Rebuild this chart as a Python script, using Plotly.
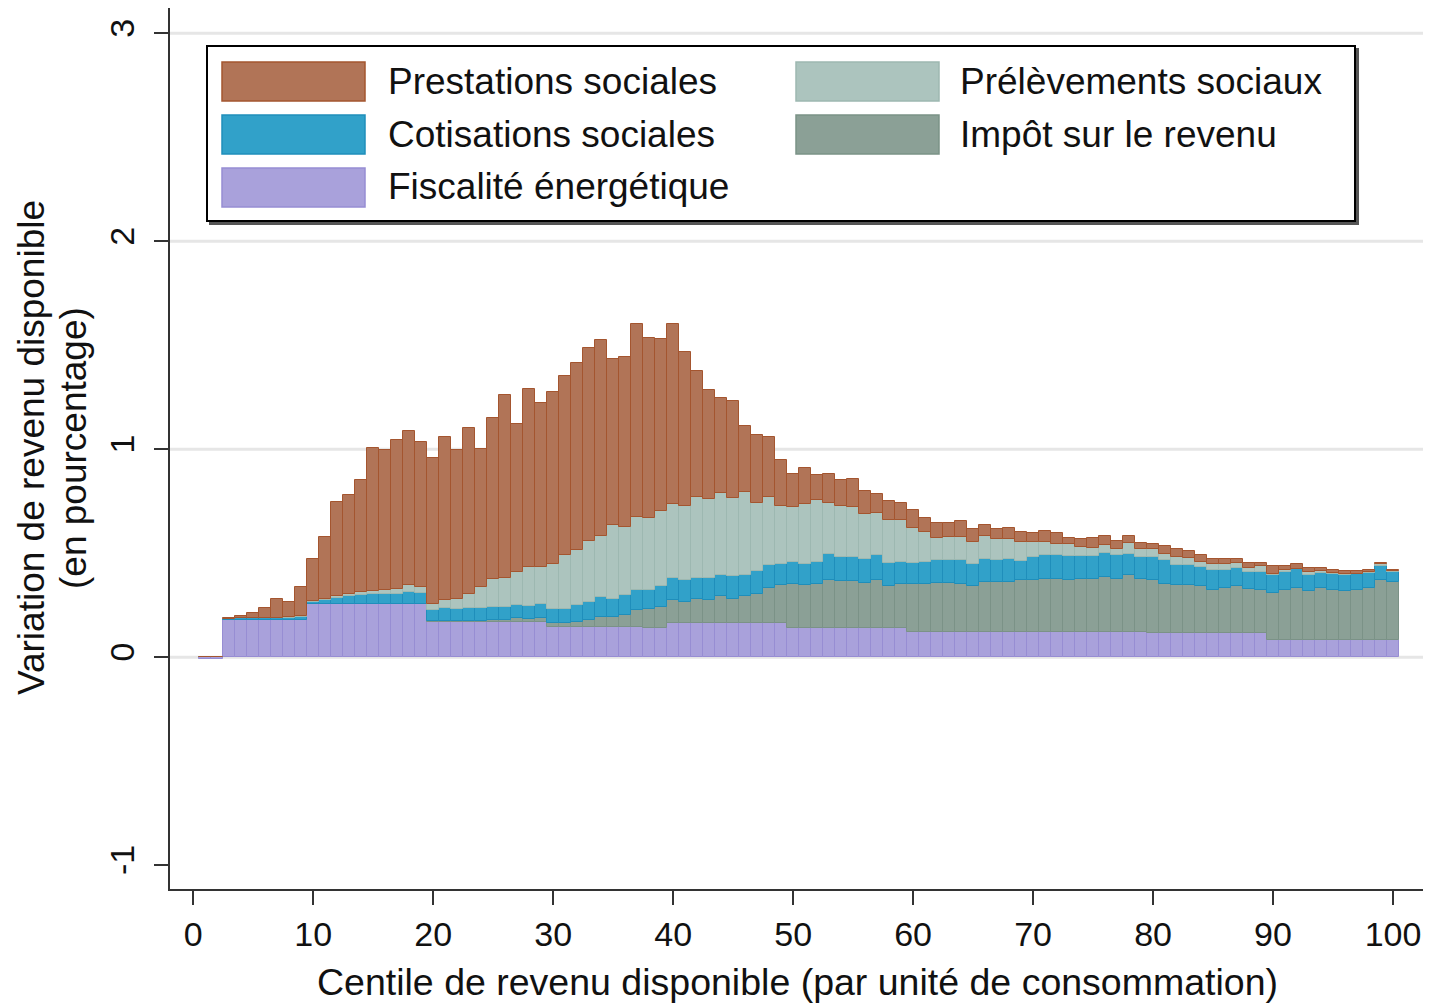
import plotly.graph_objects as go

centiles = list(range(1, 101))

fiscalite = ([-0.01] * 2 + [0.18] * 7 + [0.255] * 10 + [0.17] * 10 + [0.145] * 8 + [0.14] * 2
             + [0.165] * 10 + [0.14] * 10 + [0.122] * 15 + [0.12] * 5 + [0.114] * 10 + [0.082] * 11)

impot = ([0.0] * 19 +
         [0.005, 0.005, 0.005, 0.006, 0.006, 0.008, 0.010, 0.016, 0.013, 0.016,
          0.020, 0.020, 0.025, 0.033, 0.049, 0.049, 0.057, 0.081, 0.094, 0.102,
          0.112, 0.101, 0.117, 0.109, 0.128, 0.117, 0.128, 0.141, 0.170, 0.181,
          0.214, 0.206, 0.214, 0.233, 0.227, 0.227, 0.217, 0.233, 0.203, 0.211,
          0.229, 0.232, 0.235, 0.235, 0.232, 0.221, 0.240, 0.238, 0.240, 0.248,
          0.251, 0.256, 0.256, 0.251, 0.256, 0.258, 0.266, 0.258, 0.274, 0.258,
          0.256, 0.240, 0.235, 0.235, 0.227, 0.211, 0.219, 0.227, 0.215, 0.211,
          0.227, 0.243, 0.251, 0.235, 0.251, 0.243, 0.235, 0.243, 0.251, 0.288, 0.280])

cotisations = [0.0, 0.0, 0.003, 0.007, 0.008, 0.008, 0.008, 0.010, 0.012,
               0.012, 0.020, 0.030, 0.038, 0.045, 0.050, 0.050, 0.050, 0.060, 0.055,
               0.054, 0.060, 0.055, 0.060, 0.060, 0.064, 0.062, 0.064, 0.062, 0.072,
               0.069, 0.069, 0.083, 0.088, 0.096, 0.088, 0.096, 0.099, 0.091, 0.099,
               0.104, 0.107, 0.099, 0.107, 0.104, 0.107, 0.104, 0.107, 0.107, 0.104,
               0.104, 0.104, 0.104, 0.125, 0.115, 0.115, 0.113, 0.117, 0.111, 0.107,
               0.103, 0.104, 0.109, 0.109, 0.112, 0.107, 0.112, 0.106, 0.112, 0.093,
               0.109, 0.112, 0.112, 0.112, 0.107, 0.108, 0.116, 0.112, 0.104, 0.104,
               0.112, 0.112, 0.093, 0.093, 0.093, 0.093, 0.085, 0.090, 0.081, 0.085,
               0.085, 0.085, 0.090, 0.077, 0.072, 0.077, 0.077, 0.074, 0.072, 0.068, 0.048]

prelevements = [0.0] * 7 + [
    0.003, 0.005,
    0.003, 0.005, 0.008, 0.010, 0.011, 0.015, 0.020, 0.025, 0.030, 0.027,
    0.029, 0.039, 0.052, 0.070, 0.100, 0.136, 0.141, 0.160, 0.189, 0.176,
    0.216, 0.255, 0.261, 0.293, 0.292, 0.353, 0.329, 0.350, 0.342, 0.363,
    0.355, 0.353, 0.390, 0.379, 0.393, 0.377, 0.398, 0.329, 0.329, 0.276,
    0.262, 0.289, 0.297, 0.244, 0.246, 0.241, 0.218, 0.204, 0.208, 0.204,
    0.165, 0.145, 0.105, 0.113, 0.113, 0.104, 0.108, 0.104, 0.096, 0.091,
    0.072, 0.064, 0.056, 0.058, 0.045, 0.040, 0.036, 0.032, 0.052, 0.036,
    0.036, 0.028, 0.040, 0.035, 0.024, 0.029, 0.029, 0.022, 0.018, 0.028,
    0.008, 0.008, 0.003, 0.016, 0.008, 0.003, 0.008, 0.003, 0.005, 0.008, 0.003]

prestations = [0.0, 0.0, 0.007, 0.013, 0.022, 0.049, 0.092, 0.073, 0.141,
               0.200, 0.300, 0.454, 0.477, 0.539, 0.686, 0.673, 0.713, 0.745, 0.698,
               0.700, 0.786, 0.716, 0.794, 0.664, 0.774, 0.880, 0.710, 0.854, 0.786,
               0.823, 0.862, 0.901, 0.928, 0.945, 0.801, 0.817, 0.929, 0.868, 0.826,
               0.868, 0.742, 0.604, 0.524, 0.454, 0.465, 0.317, 0.325, 0.288, 0.224,
               0.160, 0.171, 0.123, 0.141, 0.123, 0.136, 0.110, 0.093, 0.088, 0.080,
               0.088, 0.068, 0.072, 0.064, 0.075, 0.060, 0.056, 0.044, 0.052, 0.049,
               0.044, 0.052, 0.052, 0.032, 0.040, 0.049, 0.045, 0.037, 0.033, 0.033,
               0.025, 0.041, 0.040, 0.034, 0.032, 0.027, 0.027, 0.021, 0.023, 0.015,
               0.036, 0.020, 0.020, 0.019, 0.016, 0.016, 0.011, 0.011, 0.011, 0.007, 0.008]

x_ticks = [0, 10, 20, 30, 40, 50, 60, 70, 80, 90, 100]
y_ticks = [-1, 0, 1, 2, 3]
grid_vals = [0, 1, 2, 3]

series = [
    ("Fiscalité énergétique", fiscalite, "#A9A1DB", "#978DD3"),
    ("Impôt sur le revenu", impot, "#8BA096", "#7B9287"),
    ("Cotisations sociales", cotisations, "#31A1C9", "#1F8EBB"),
    ("Prélèvements sociaux", prelevements, "#ACC4BE", "#9DB8B1"),
    ("Prestations sociales", prestations, "#B17457", "#A4552F"),
]

FONT = "Liberation Sans, Arial, sans-serif"
TXT = "#111111"

fig = go.Figure()
for name, vals, fill, edge in series:
    fig.add_trace(go.Bar(x=centiles, y=vals, name=name, width=1,
                         marker=dict(color=fill, line=dict(color=edge, width=1)),
                         showlegend=False))

L, R, T, B = 170, 7, 8, 115
W, H = 1430, 1004
pw, ph = W - L - R, H - T - B


def px(xp):
    return (xp - L) / pw


def py(yp):
    return (H - B - yp) / ph


shapes = []
for g in grid_vals:
    shapes.append(dict(type="line", xref="paper", yref="y", x0=0, x1=1, y0=g, y1=g,
                       line=dict(color="#E6E6E6", width=3), layer="below"))

# legend box (shadow + frame)
shapes.append(dict(type="rect", xref="paper", yref="paper",
                   x0=px(210), x1=px(1358), y0=py(224), y1=py(49),
                   line=dict(color="#555555", width=2), fillcolor="#555555", layer="above"))
shapes.append(dict(type="rect", xref="paper", yref="paper",
                   x0=px(207), x1=px(1355), y0=py(221), y1=py(46),
                   line=dict(color="#000000", width=2), fillcolor="white", layer="above"))

legend_items = [
    ("Prestations sociales", "#B17457", "#A4552F", 222, 62, 388),
    ("Cotisations sociales", "#31A1C9", "#1F8EBB", 222, 115, 388),
    ("Fiscalité énergétique", "#A9A1DB", "#978DD3", 222, 168, 388),
    ("Prélèvements sociaux", "#ACC4BE", "#9DB8B1", 796, 62, 960),
    ("Impôt sur le revenu", "#8BA096", "#7B9287", 796, 115, 960),
]
annotations = []
for label, fill, edge, sx, sy, tx in legend_items:
    shapes.append(dict(type="rect", xref="paper", yref="paper",
                       x0=px(sx), x1=px(sx + 143), y0=py(sy + 39), y1=py(sy),
                       line=dict(color=edge, width=1.5), fillcolor=fill, layer="above"))
    annotations.append(dict(text=label, xref="paper", yref="paper", x=px(tx - 2), y=py(sy + 19),
                            xanchor="left", yanchor="middle", showarrow=False,
                            font=dict(family=FONT, size=37, color=TXT)))

# axis titles
annotations.append(dict(text="Centile de revenu disponible (par unité de consommation)",
                        xref="paper", yref="paper", x=px(797), y=py(982),
                        xanchor="center", yanchor="middle", showarrow=False,
                        font=dict(family=FONT, size=37.5, color=TXT)))
annotations.append(dict(text="Variation de revenu disponible", xref="paper", yref="paper",
                        x=px(31), y=py(448), textangle=-90, xanchor="center", yanchor="middle",
                        showarrow=False, font=dict(family=FONT, size=37, color=TXT)))
annotations.append(dict(text="(en pourcentage)", xref="paper", yref="paper",
                        x=px(73), y=py(448), textangle=-90, xanchor="center", yanchor="middle",
                        showarrow=False, font=dict(family=FONT, size=37, color=TXT)))

fig.update_layout(
    width=W, height=H,
    margin=dict(l=L, r=R, t=T, b=B, pad=0),
    paper_bgcolor="white", plot_bgcolor="white",
    barmode="relative", bargap=0,
    font=dict(family=FONT, color=TXT),
    shapes=shapes, annotations=annotations,
    xaxis=dict(range=[-1.94, 102.5], tickvals=x_ticks, ticktext=[str(v) for v in x_ticks],
               showgrid=False, zeroline=False, showline=True, linecolor="#333333", linewidth=2,
               ticks="outside", ticklen=14, tickwidth=2, tickcolor="#333333",
               tickfont=dict(family=FONT, size=34, color=TXT)),
    yaxis=dict(range=[-1.115, 3.122], tickvals=y_ticks, ticktext=[str(v) for v in y_ticks],
               showgrid=False, zeroline=False, showline=True, linecolor="#333333", linewidth=2,
               ticks="outside", ticklen=14, tickwidth=2, tickcolor="#333333", tickangle=-90,
               ticklabelstandoff=6,
               tickfont=dict(family=FONT, size=34, color=TXT)),
)

fig.write_html("out.html", config={"displayModeBar": False},
               post_script="document.body.style.margin='0';document.body.style.overflow='hidden';")
